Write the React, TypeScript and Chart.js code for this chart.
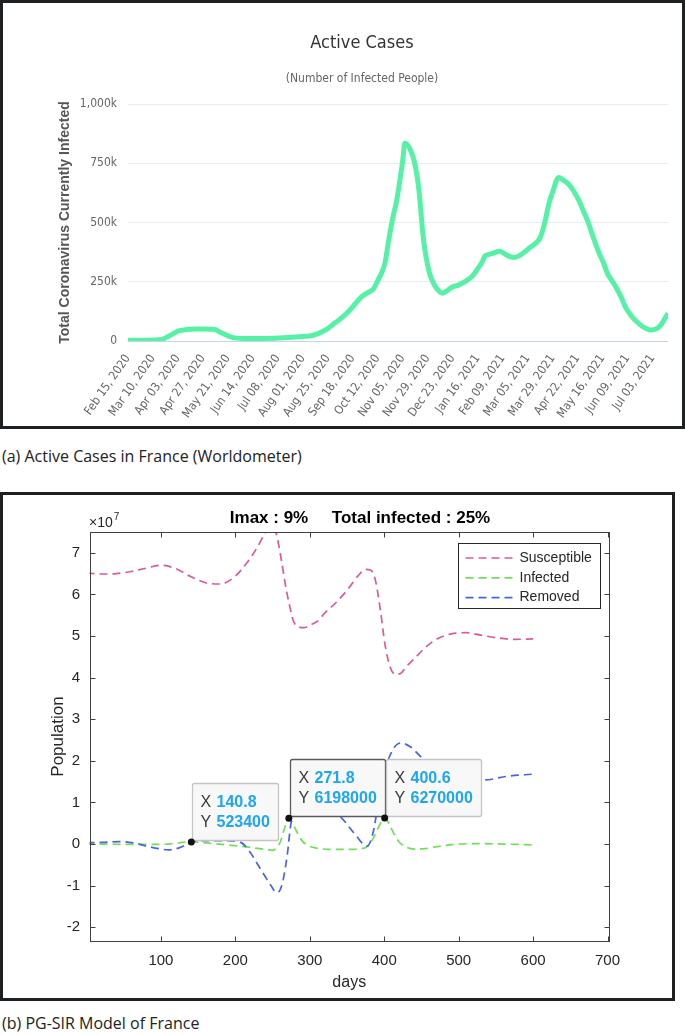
import React, { useEffect, useRef } from "react";
import { Chart, registerables } from "chart.js";

Chart.register(...registerables);

// ---------------- (a) Worldometer: active cases in France ----------------
// x: days since Feb 15, 2020 ; y: active cases in thousands
const activeDays = [0, 15, 25, 32, 38, 44, 48, 54, 58, 66, 74, 80, 84, 88, 92, 96, 101, 110, 125, 140, 150, 161, 170, 176, 182, 187, 192, 197, 202, 208, 213, 218, 222, 226, 231, 236, 240, 244, 247, 250, 252, 255, 258, 261, 264, 266, 269, 272, 275, 278, 280, 283, 285, 288, 290, 294, 297, 302, 306, 311, 317, 323, 330, 336, 340, 343, 347, 352, 357, 362, 366, 371, 376, 381, 386, 391, 396, 400, 405, 409, 412, 414, 418, 423, 428, 434, 438, 442, 447, 452, 457, 461, 465, 469, 474, 478, 483, 489, 495, 503, 508, 512, 516, 519];
const activeK = [3, 3, 4, 6, 18, 32, 42, 47, 50, 51, 51, 50, 48, 38, 30, 22, 14, 11, 11, 12, 14, 17, 20, 22, 30, 40, 52, 70, 86, 108, 130, 155, 175, 192, 205, 220, 255, 290, 330, 410, 462, 530, 587, 670, 760, 834, 825, 800, 760, 690, 620, 470, 394, 320, 283, 240, 220, 202, 210, 227, 235, 248, 270, 304, 330, 358, 365, 372, 379, 368, 358, 352, 360, 375, 394, 410, 435, 490, 587, 640, 680, 690, 680, 664, 635, 587, 545, 504, 440, 379, 330, 283, 255, 227, 185, 144, 110, 81, 60, 46, 52, 67, 95, 117];
const activeTickLabels = ["Feb 15, 2020", "Mar 10, 2020", "Apr 03, 2020", "Apr 27, 2020", "May 21, 2020", "Jun 14, 2020", "Jul 08, 2020", "Aug 01, 2020", "Aug 25, 2020", "Sep 18, 2020", "Oct 12, 2020", "Nov 05, 2020", "Nov 29, 2020", "Dec 23, 2020", "Jan 16, 2021", "Feb 09, 2021", "Mar 05, 2021", "Mar 29, 2021", "Apr 22, 2021", "May 16, 2021", "Jun 09, 2021", "Jul 03, 2021"];
const activeYTicks = ["0", "250k", "500k", "750k", "1,000k"];
const TOP_TITLE = "Active Cases";
const TOP_SUBTITLE = "(Number of Infected People)";
const TOP_YTITLE = "Total Coronavirus Currently Infected";

// ---------------- (b) PG-SIR model of France (values in units of 10^7) ----------------
const susDays = [0, 20, 40, 60, 80, 100, 120, 140, 160, 180, 200, 215, 230, 240, 248, 255, 262, 268, 272, 278, 285, 292, 300, 310, 320, 335, 350, 365, 375, 382, 388, 395, 401, 408, 415, 422, 430, 440, 455, 470, 490, 510, 530, 550, 575, 600];
const susVals = [6.52, 6.49, 6.5, 6.55, 6.63, 6.7, 6.62, 6.43, 6.28, 6.25, 6.44, 6.75, 7.15, 7.48, 7.64, 7.45, 6.8, 6.15, 5.8, 5.36, 5.22, 5.2, 5.26, 5.35, 5.55, 5.8, 6.1, 6.45, 6.6, 6.58, 6.35, 5.6, 4.8, 4.25, 4.08, 4.1, 4.27, 4.45, 4.72, 4.92, 5.05, 5.08, 5.02, 4.96, 4.92, 4.93];
const infDays = [0, 40, 80, 110, 140.8, 170, 195, 220, 240, 250, 256, 261, 266, 271.8, 277, 283, 290, 298, 310, 330, 350, 370, 378, 384, 389, 395, 400.6, 406, 413, 420, 428, 440, 455, 475, 500, 530, 560, 600];
const infVals = [0, -0.005, -0.01, 0, 0.0523, 0.01, -0.03, -0.08, -0.13, -0.15, -0.08, 0.08, 0.38, 0.6198, 0.5, 0.28, 0.07, -0.04, -0.1, -0.13, -0.13, -0.11, -0.05, 0.1, 0.28, 0.5, 0.627, 0.5, 0.25, 0.05, -0.06, -0.12, -0.11, -0.05, 0, 0.01, 0, -0.02];
const remDays = [0, 20, 45, 65, 81, 100, 110, 126, 140.8, 160, 185, 207, 218, 229, 240, 247, 256, 263, 270, 274, 279, 290, 305, 320, 341, 360, 377, 386, 395, 409, 422, 435, 449, 470, 500, 534, 566, 600];
const remVals = [0.03, 0.04, 0.06, 0.02, -0.05, -0.12, -0.14, -0.08, 0.05, 0.08, 0.08, 0.04, -0.15, -0.46, -0.78, -0.98, -1.17, -0.95, -0.22, 0.42, 0.8, 1.1, 1.1, 0.9, 0.66, 0.25, -0.05, 0.35, 1.38, 2.18, 2.43, 2.34, 2.1, 1.8, 1.6, 1.54, 1.63, 1.68];
const sirXTicks = [100, 200, 300, 400, 500, 600, 700];
const sirYTicks = [-2, -1, 0, 1, 2, 3, 4, 5, 6, 7];
const seriesLabels = ["Susceptible", "Infected", "Removed"];
const seriesColors = ["#dc5a9c", "#6ee255", "#4a62ee"];
const tipDays = [140.8, 271.8, 400.6];
const tipVals = [523400, 6198000, 6270000];
const BOT_TITLE = "Imax : 9%     Total infected : 25%";
const CAPTION_A = "(a) Active Cases in France (Worldometer)";
const CAPTION_B = "(b) PG-SIR Model of France";

const NARROW = "'Liberation Sans Narrow', 'DejaVu Sans Condensed', 'Liberation Sans', sans-serif";
const SANS = "'Liberation Sans', Arial, Helvetica, sans-serif";

const topTitles = {
  id: "topTitles",
  afterDraw(chart: any) {
    const ctx = chart.ctx;
    ctx.save();
    ctx.textAlign = "center";
    ctx.textBaseline = "middle";
    ctx.fillStyle = "#333333";
    ctx.font = `18px ${NARROW}`;
    ctx.fillText(TOP_TITLE, 359, 40);
    ctx.fillStyle = "#666666";
    ctx.font = `12px ${NARROW}`;
    ctx.fillText(TOP_SUBTITLE, 359, 76);
    ctx.restore();
  },
};

const sirDecor = {
  id: "sirDecor",
  afterDatasetsDraw(chart: any) {
    const { ctx, chartArea: a, scales } = chart;
    const x = scales.x;
    const y = scales.y;
    ctx.save();
    // axes box
    ctx.strokeStyle = "#404040";
    ctx.lineWidth = 1;
    const L = Math.round(a.left) + 0.5, R = Math.round(a.right) + 0.5;
    const T = Math.round(a.top) + 0.5, B = Math.round(a.bottom) + 0.5;
    ctx.strokeRect(L, T, R - L, B - T);
    const tl = 5;
    ctx.beginPath();
    x.ticks.forEach((t: any) => {
      const px = Math.round(x.getPixelForValue(t.value)) + 0.5;
      ctx.moveTo(px, B); ctx.lineTo(px, B - tl);
      ctx.moveTo(px, T); ctx.lineTo(px, T + tl);
    });
    y.ticks.forEach((t: any) => {
      const py = Math.round(y.getPixelForValue(t.value)) + 0.5;
      ctx.moveTo(L, py); ctx.lineTo(L + tl, py);
      ctx.moveTo(R, py); ctx.lineTo(R - tl, py);
    });
    ctx.stroke();

    // legend
    const lx = Math.round(a.right) - 151 + 0.5, ly = Math.round(a.top) + 11 + 0.5;
    const lw = 142, lh = 65;
    ctx.fillStyle = "#ffffff";
    ctx.fillRect(lx, ly, lw, lh);
    ctx.strokeStyle = "#262626";
    ctx.lineWidth = 1;
    ctx.strokeRect(lx, ly, lw, lh);
    seriesLabels.forEach((lab, i) => {
      const yy = ly + 14.5 + i * 19.8;
      ctx.save();
      ctx.strokeStyle = seriesColors[i];
      ctx.lineWidth = 1.7;
      ctx.setLineDash([8, 5]);
      ctx.beginPath();
      ctx.moveTo(lx + 7, yy);
      ctx.lineTo(lx + 58, yy);
      ctx.stroke();
      ctx.restore();
      ctx.fillStyle = "#262626";
      ctx.font = `14px ${SANS}`;
      ctx.textAlign = "left";
      ctx.textBaseline = "middle";
      ctx.fillText(lab, lx + 61, yy);
    });

    // data tips
    tipDays.forEach((d, i) => {
      const px = x.getPixelForValue(d);
      const py = y.getPixelForValue(tipVals[i] / 1e7);
      const sx = d.toFixed(1);
      const sy = String(tipVals[i]);
      ctx.font = `bold 16px ${SANS}`;
      const w = Math.max(ctx.measureText(sx).width, ctx.measureText(sy).width);
      const bw = Math.round(24 + w + 9);
      const bh = 57;
      const bx = Math.round(px) + 1.5;
      const by = Math.round(py) - 1.5 - bh;
      ctx.beginPath();
      ctx.roundRect(bx, by, bw, bh, 2);
      ctx.fillStyle = "#f8f8f8";
      ctx.fill();
      ctx.strokeStyle = i === 1 ? "#5a5a5a" : "#c4c4c4";
      ctx.lineWidth = 1.3;
      ctx.stroke();
      ctx.textAlign = "left";
      ctx.textBaseline = "middle";
      ctx.font = `16px ${SANS}`;
      ctx.fillStyle = "#3a3a3a";
      ctx.fillText("X", bx + 8, by + 19.5);
      ctx.fillText("Y", bx + 8, by + 39.5);
      ctx.font = `bold 16px ${SANS}`;
      ctx.fillStyle = "#1ea6f2";
      ctx.fillText(sx, bx + 24, by + 19.5);
      ctx.fillText(sy, bx + 24, by + 39.5);
      ctx.fillStyle = "#111111";
      ctx.beginPath();
      ctx.arc(px, py, 3.5, 0, Math.PI * 2);
      ctx.fill();
    });

    // title and exponent
    ctx.fillStyle = "#000000";
    ctx.textAlign = "center";
    ctx.textBaseline = "middle";
    ctx.font = `bold 17px ${SANS}`;
    ctx.fillText(BOT_TITLE, 357, 23);
    ctx.fillStyle = "#262626";
    ctx.textAlign = "left";
    ctx.textBaseline = "alphabetic";
    ctx.font = `14px ${SANS}`;
    ctx.fillText("\u00d710", 86, 32);
    const w10 = ctx.measureText("\u00d710").width;
    ctx.font = `10px ${SANS}`;
    ctx.fillText("7", 86 + w10 + 1, 25);
    ctx.restore();
  },
};

function topConfig(): any {
  return {
    type: "line",
    data: {
      datasets: [
        {
          data: activeDays.map((d, i) => ({ x: d, y: activeK[i] })),
          borderColor: "#55f2a6",
          borderWidth: 5,
          pointRadius: 0,
          cubicInterpolationMode: "monotone",
          fill: false,
        },
      ],
    },
    options: {
      animation: false,
      responsive: false,
      maintainAspectRatio: false,
      layout: { padding: { top: 101, right: 14, left: 0, bottom: 0 } },
      plugins: { legend: { display: false }, tooltip: { enabled: false } },
      scales: {
        x: {
          type: "linear",
          min: 0,
          max: 519,
          grid: { display: false },
          border: { display: false },
          afterBuildTicks: (s: any) => {
            s.ticks = activeTickLabels.map((_, i) => ({ value: i * 24 }));
          },
          afterFit: (s: any) => {
            s.height = 85;
            s.paddingLeft = 0;
            s.paddingRight = 0;
          },
          ticks: {
            autoSkip: false,
            minRotation: 55,
            maxRotation: 55,
            padding: 3,
            color: "#666666",
            font: { family: NARROW, size: 12 },
            callback: (_v: any, i: number) => activeTickLabels[i],
          },
        },
        y: {
          min: 0,
          max: 1000,
          afterBuildTicks: (s: any) => {
            s.ticks = activeYTicks.map((_, i) => ({ value: i * 250 }));
          },
          afterFit: (s: any) => {
            s.width = 125;
          },
          grid: {
            drawTicks: false,
            lineWidth: 1,
            color: (c: any) => (c.tick && c.tick.value === 0 ? "#c6d4ea" : "#e6ecef"),
          },
          border: { display: false },
          ticks: {
            padding: 11,
            color: "#666666",
            font: { family: NARROW, size: 12 },
            callback: (_v: any, i: number) => activeYTicks[i],
          },
          title: {
            display: true,
            text: TOP_YTITLE,
            color: "#555555",
            font: { family: SANS, size: 14, weight: "bold" },
            padding: { top: 54, bottom: 0 },
          },
        },
      },
    },
    plugins: [topTitles],
  };
}

function botConfig(): any {
  const mk = (days: number[], vals: number[], i: number, order: number) => ({
    label: seriesLabels[i],
    data: days.map((d, k) => ({ x: d, y: vals[k] })),
    borderColor: seriesColors[i],
    borderWidth: 1.7,
    borderDash: [8, 5],
    pointRadius: 0,
    cubicInterpolationMode: "monotone",
    fill: false,
    clip: 0,
    order,
  });
  return {
    type: "line",
    data: {
      datasets: [
        mk(susDays, susVals, 0, 3),
        mk(infDays, infVals, 1, 2),
        mk(remDays, remVals, 2, 1),
      ],
    },
    options: {
      animation: false,
      responsive: false,
      maintainAspectRatio: false,
      layout: { padding: { top: 37, right: 63, left: 0, bottom: 0 } },
      plugins: { legend: { display: false }, tooltip: { enabled: false } },
      scales: {
        x: {
          type: "linear",
          min: 4,
          max: 702,
          grid: { display: false, drawTicks: false },
          border: { display: false },
          afterBuildTicks: (s: any) => {
            s.ticks = sirXTicks.map((v) => ({ value: v }));
          },
          afterFit: (s: any) => {
            s.height = 57;
            s.paddingLeft = 0;
            s.paddingRight = 0;
          },
          ticks: {
            autoSkip: false,
            maxRotation: 0,
            padding: 11,
            color: "#262626",
            font: { family: SANS, size: 15 },
            callback: (_v: any, i: number) => String(sirXTicks[i]),
          },
          title: {
            display: true,
            text: "days",
            color: "#262626",
            font: { family: SANS, size: 16 },
            padding: { top: 0, bottom: 6 },
          },
        },
        y: {
          min: -2.33,
          max: 7.5,
          grid: { display: false, drawTicks: false },
          border: { display: false },
          afterBuildTicks: (s: any) => {
            s.ticks = sirYTicks.map((v) => ({ value: v }));
          },
          afterFit: (s: any) => {
            s.width = 86.5;
          },
          ticks: {
            autoSkip: false,
            padding: 9.5,
            color: "#262626",
            font: { family: SANS, size: 15 },
            callback: (_v: any, i: number) => String(sirYTicks[i]),
          },
          title: {
            display: true,
            text: "Population",
            color: "#262626",
            font: { family: SANS, size: 17 },
            padding: { top: 45, bottom: 0 },
          },
        },
      },
    },
    plugins: [sirDecor],
  };
}

export default function App() {
  const topRef = useRef<HTMLCanvasElement>(null);
  const botRef = useRef<HTMLCanvasElement>(null);

  useEffect(() => {
    const c1 = new Chart(topRef.current as HTMLCanvasElement, topConfig());
    const c2 = new Chart(botRef.current as HTMLCanvasElement, botConfig());
    return () => {
      c1.destroy();
      c2.destroy();
    };
  }, []);

  const caption: React.CSSProperties = {
    position: "absolute",
    left: 2,
    fontFamily: "'Open Sans', sans-serif",
    fontSize: 16,
    lineHeight: "22px",
    color: "#222222",
    whiteSpace: "nowrap",
  };

  return (
    <div style={{ position: "absolute", left: 0, top: 0, width: 685, height: 1035, background: "#ffffff", overflow: "hidden" }}>
      <div style={{ position: "absolute", left: 0, top: 0, width: 685, height: 429, border: "3px solid #1d2124", boxSizing: "border-box", background: "#fff" }}>
        <canvas ref={topRef} width={679} height={423} style={{ display: "block", width: 679, height: 423 }} />
      </div>
      <div style={{ ...caption, top: 445 }}>{CAPTION_A}</div>
      <div style={{ position: "absolute", left: 0, top: 492, width: 675, height: 509, border: "3px solid #1d2124", boxSizing: "border-box", background: "#fff" }}>
        <canvas ref={botRef} width={669} height={503} style={{ display: "block", width: 669, height: 503 }} />
      </div>
      <div style={{ ...caption, top: 1012 }}>{CAPTION_B}</div>
    </div>
  );
}
